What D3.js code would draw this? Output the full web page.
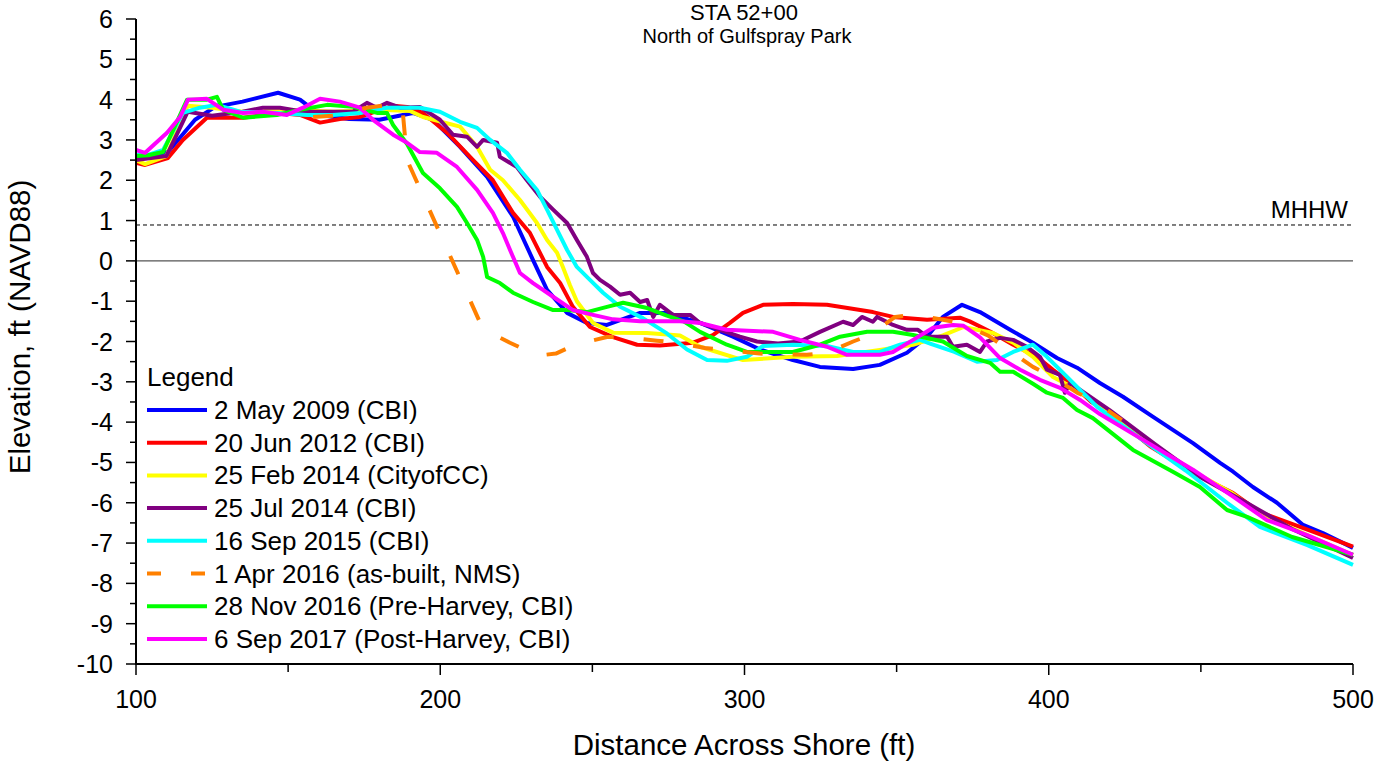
<!DOCTYPE html>
<html><head><meta charset="utf-8">
<script src="https://cdn.jsdelivr.net/npm/d3@7"></script>
<style>body{margin:0;background:#fff}svg{display:block;font-family:"Liberation Sans",Arial,sans-serif}</style>
</head><body><svg id="c" width="1394" height="765"></svg>
<script>
const xTicks=[100,200,300,400,500];
const yTicks=[-10,-9,-8,-7,-6,-5,-4,-3,-2,-1,0,1,2,3,4,5,6];
const mhhw=0.89;
const seriesNames=["2 May 2009 (CBI)","20 Jun 2012 (CBI)","25 Feb 2014 (CityofCC)","25 Jul 2014 (CBI)","16 Sep 2015 (CBI)","1 Apr 2016 (as-built, NMS)","28 Nov 2016 (Pre-Harvey, CBI)","6 Sep 2017 (Post-Harvey, CBI)"];
const seriesColors=["#0000ff","#ff0000","#ffff00","#800080","#00ffff","#ff8000","#00ff00","#ff00ff"];
const blue=[[100,2.55],[103,2.6],[110.5,2.7],[119.4,3.5],[126,3.82],[135,3.95],[146.7,4.17],[153.9,4.0],[160.5,3.62],[170,3.52],[180,3.5],[191,3.67],[197.6,3.5],[206.5,2.83],[215.4,2.08],[223.9,1.1],[230.5,0.02],[235.1,-0.72],[241.7,-1.29],[248.2,-1.54],[254.8,-1.59],[265.7,-1.29],[274.5,-1.29],[285.4,-1.54],[296.2,-1.88],[305.1,-2.2],[315.9,-2.46],[324.8,-2.63],[335.7,-2.68],[344.5,-2.58],[353.4,-2.28],[360,-1.88],[365.2,-1.39],[371.5,-1.09],[377.4,-1.27],[387.3,-1.71],[394.8,-2.03],[402.7,-2.41],[409.3,-2.65],[416.8,-3.03],[424.4,-3.37],[434.3,-3.87],[447.4,-4.52],[456.3,-5.01],[460.6,-5.23],[467.1,-5.61],[475,-6.0],[483.6,-6.55],[490.1,-6.75],[500,-7.12]];
const red=[[100,2.43],[103,2.38],[110.5,2.55],[115.4,3.0],[123.3,3.55],[135.2,3.55],[147.3,3.67],[153.9,3.62],[160.5,3.43],[167,3.52],[173.6,3.57],[184.5,3.85],[189.1,3.82],[194.3,3.67],[202.2,3.18],[210.8,2.5],[217.3,2.0],[223.9,1.19],[229.5,0.69],[235.1,-0.15],[239.4,-0.55],[243.6,-1.14],[249.2,-1.64],[256.8,-1.89],[264.7,-2.08],[272.2,-2.1],[283.1,-2.03],[289.6,-1.84],[295.2,-1.54],[299.5,-1.29],[306.1,-1.09],[315.9,-1.07],[327.1,-1.09],[342.2,-1.27],[348.8,-1.39],[360,-1.46],[370.8,-1.41],[374,-1.5],[380.7,-1.75],[388.3,-2.08],[396.1,-2.38],[401.4,-2.7],[408,-3.08],[414,-3.5],[420,-3.77],[433.3,-4.6],[447.4,-5.26],[460.6,-5.76],[469.4,-6.23],[482.6,-6.6],[500,-7.09]];
const yellow=[[100,2.5],[103,2.4],[110,2.6],[117,3.85],[125,3.8],[135,3.7],[150,3.75],[165,3.7],[180,3.75],[190,3.72],[194.3,3.57],[206.5,3.33],[212.1,2.83],[216.4,2.26],[220.6,2.0],[226.2,1.51],[231.8,0.94],[235.1,0.52],[238.4,0.2],[240.3,-0.15],[242.6,-0.6],[244.9,-1.0],[250.2,-1.54],[256.8,-1.78],[268,-1.79],[278.8,-1.85],[285.4,-2.13],[299.5,-2.46],[315.9,-2.38],[330.4,-2.36],[344.5,-2.21],[355.4,-2.08],[365.2,-1.85],[372,-1.64],[381.7,-1.79],[388.3,-2.03],[394.8,-2.38],[401.4,-2.88],[409.3,-3.2],[412.6,-3.37],[433,-4.5],[447,-5.2],[460,-5.75],[470,-6.3],[485,-6.8],[500,-7.3]];
const purple=[[100,2.5],[105,2.55],[110,2.6],[117,3.7],[125,3.6],[135,3.7],[141.7,3.8],[147.3,3.8],[155,3.7],[163.8,3.7],[171.3,3.7],[175.9,3.92],[179.2,3.8],[182.5,3.92],[186.8,3.8],[193.3,3.82],[199.9,3.5],[204.2,3.13],[208.8,3.08],[212.1,2.83],[214.1,3.0],[218.7,2.93],[219.6,2.58],[225.2,2.33],[228.5,2.0],[232.8,1.59],[237.1,1.27],[241.7,0.94],[244.9,0.52],[248.2,0.1],[250.2,-0.3],[252.5,-0.47],[255.8,-0.64],[259.1,-0.84],[262.4,-0.79],[265.7,-1.02],[268,-0.97],[270,-1.39],[272.2,-1.09],[276.5,-1.34],[282.1,-1.34],[285.4,-1.54],[291.9,-1.71],[298.5,-1.88],[304.1,-2.0],[311,-2.05],[318.2,-2.0],[324.8,-1.76],[332.4,-1.51],[335.7,-1.59],[338.6,-1.39],[342.2,-1.51],[343.6,-1.39],[348.8,-1.59],[353.4,-1.71],[357,-1.71],[360,-1.88],[366.6,-1.88],[368.5,-2.13],[373.1,-2.08],[377.4,-2.26],[379.7,-2.0],[384,-1.91],[388.3,-1.96],[392.8,-2.13],[397.1,-2.38],[399.4,-2.7],[403.7,-2.83],[405.3,-3.27],[407,-3.03],[420,-3.7],[435,-4.55],[449.7,-5.36],[465,-6.0],[480,-6.65],[500,-7.37]];
const cyan=[[100,2.63],[104,2.63],[108.9,2.75],[115.4,3.67],[121,3.8],[126.6,3.87],[134.2,3.7],[146.3,3.67],[156.2,3.62],[164.7,3.62],[173.6,3.67],[182.5,3.8],[193.3,3.8],[199.9,3.7],[206.5,3.45],[212.1,3.3],[216.4,3.0],[221.9,2.68],[226.2,2.26],[231.8,1.76],[235.1,1.27],[238.4,0.77],[241.7,0.27],[244.9,-0.15],[249.2,-0.47],[253.5,-0.79],[259.1,-1.14],[266.6,-1.42],[274.5,-1.8],[281.1,-2.2],[287.7,-2.46],[294.2,-2.48],[300.8,-2.38],[306.1,-2.11],[315.9,-2.08],[327.1,-2.11],[335.7,-2.26],[344.5,-2.26],[351.1,-2.08],[357.7,-1.96],[361,-2.05],[369,-2.26],[376.4,-2.5],[383,-2.46],[388.3,-2.26],[394.8,-2.08],[399.4,-2.38],[404.7,-2.78],[410.3,-3.2],[415.9,-3.62],[430,-4.4],[445,-5.2],[458.6,-6.0],[469.4,-6.6],[485,-7.05],[500,-7.54]];
const orange=[[158.2,3.57],[164.7,3.6],[175.9,3.8],[181.2,3.85],[187.5,3.85],[189.1,2.5],[214.1,-1.7],[222.9,-2.03],[232,-2.35],[238,-2.3],[244.3,-2.08],[254.8,-1.89],[260.7,-1.89],[271.2,-1.98],[277.8,-2.03],[287,-2.16],[293.6,-2.21],[305,-2.3],[320.5,-2.33],[327.1,-2.28],[335.7,-2.0],[341.3,-1.84],[349.5,-1.39],[356,-1.34],[365.2,-1.46],[370.8,-1.54],[380,-1.85],[394.8,-2.63],[401.4,-2.88],[409.3,-3.27],[414.5,-3.45],[424,-3.95]];
const green=[[100,2.6],[104,2.62],[108.9,2.7],[116.8,4.0],[123.3,4.0],[126.6,4.07],[128.6,3.75],[135.2,3.55],[146.3,3.62],[153.9,3.75],[162.8,3.87],[171.3,3.82],[179.2,3.67],[182.5,3.67],[184.5,3.37],[189.1,2.9],[194.3,2.18],[199.9,1.8],[205.5,1.34],[208.8,0.94],[212.1,0.52],[214.1,0.1],[215.4,-0.4],[219.6,-0.55],[223.9,-0.79],[230.5,-1.02],[237.1,-1.22],[241.7,-1.22],[248.2,-1.27],[254.8,-1.14],[260.1,-1.04],[268,-1.17],[274.5,-1.36],[280,-1.5],[285.4,-1.76],[294.2,-2.08],[300.8,-2.26],[315.9,-2.26],[324.8,-2.08],[331.4,-1.88],[340.3,-1.76],[348.8,-1.76],[355.4,-1.84],[365.2,-2.0],[373.1,-2.36],[380.7,-2.53],[384,-2.75],[388.3,-2.75],[394.8,-3.05],[399.4,-3.27],[404.7,-3.4],[409.3,-3.7],[414.5,-3.9],[427.7,-4.69],[440.8,-5.23],[449.7,-5.61],[458.6,-6.18],[465.2,-6.35],[480,-6.85],[500,-7.29]];
const pink=[[100,2.75],[103,2.68],[110.2,3.18],[114.5,3.57],[117.1,4.0],[123.3,4.02],[128.6,3.75],[135.2,3.67],[141.7,3.7],[149.6,3.62],[154.9,3.8],[160.5,4.02],[167,3.95],[173.6,3.8],[177.9,3.5],[184.5,3.13],[189.1,2.93],[193.3,2.7],[198.9,2.68],[205.5,2.33],[212.1,1.76],[217.3,1.19],[220.6,0.69],[223.9,0.1],[226.2,-0.3],[230.5,-0.55],[237.1,-0.89],[243.6,-1.22],[250.2,-1.34],[256.8,-1.45],[265.7,-1.5],[278.8,-1.5],[285.4,-1.54],[294.2,-1.71],[309.4,-1.76],[318.2,-1.96],[327.1,-2.13],[333.7,-2.33],[344.5,-2.33],[348.8,-2.26],[355.4,-1.96],[362,-1.66],[368.5,-1.59],[372,-1.61],[377.4,-1.9],[384,-2.41],[390.6,-2.7],[397.1,-2.95],[403.7,-3.15],[410.3,-3.45],[416.8,-3.8],[431,-4.44],[447.4,-5.18],[460.6,-5.85],[471.7,-6.43],[484.9,-6.8],[500,-7.29]];
const seriesData=[blue,red,yellow,purple,cyan,orange,green,pink];
const drawOrder=[0,1,2,3,4,6,7,5];

const svg=d3.select("#c");
const L=136,R=1353,T=19,B=664;
const x=d3.scaleLinear().domain([100,500]).range([L,R]);
const y=d3.scaleLinear().domain([-10,6]).range([B,T]);

// reference lines
svg.append("line").attr("x1",L).attr("x2",R).attr("y1",y(0)).attr("y2",y(0)).attr("stroke","#555").attr("stroke-width",1.2);
svg.append("line").attr("x1",L).attr("x2",R).attr("y1",y(mhhw)).attr("y2",y(mhhw)).attr("stroke","#000").attr("stroke-width",1).attr("stroke-dasharray","4,3");
svg.append("text").attr("x",1348).attr("y",218).attr("text-anchor","end").attr("font-size",24).text("MHHW");

// series
const line=d3.line().x(d=>x(d[0])).y(d=>y(d[1]));
const g=svg.append("g");
drawOrder.forEach(i=>{
  g.append("path").attr("d",line(seriesData[i])).attr("fill","none").attr("stroke",seriesColors[i])
   .attr("stroke-width",4).attr("stroke-linejoin","round")
   .attr("stroke-dasharray",i===5?"20,30":null);
});

// axes
d3.range(100,501,50).forEach(v=>{
  const major=v%100===0;
  svg.append("line").attr("x1",x(v)).attr("x2",x(v)).attr("y1",B).attr("y2",B+(major?11:8)).attr("stroke","#000").attr("stroke-width",1.5);
});
xTicks.forEach(v=>{
  svg.append("text").attr("x",x(v)).attr("y",708).attr("text-anchor","middle").attr("font-size",25).text(v);
});
d3.range(-10,6.01,0.5).forEach(v=>{
  const major=Math.abs(v-Math.round(v))<1e-9;
  svg.append("line").attr("x1",L).attr("x2",L-(major?10:6)).attr("y1",y(v)).attr("y2",y(v)).attr("stroke","#000").attr("stroke-width",1.5);
});
yTicks.forEach(v=>{
  svg.append("text").attr("x",113).attr("y",y(v)+9).attr("text-anchor","end").attr("font-size",25).text(v);
});
svg.append("line").attr("x1",L).attr("x2",L).attr("y1",T).attr("y2",B+1).attr("stroke","#000").attr("stroke-width",2);
svg.append("line").attr("x1",L-1).attr("x2",R).attr("y1",B).attr("y2",B).attr("stroke","#000").attr("stroke-width",2);

// titles
svg.append("text").attr("x",744).attr("y",20).attr("text-anchor","middle").attr("font-size",22).text("STA 52+00");
svg.append("text").attr("x",747).attr("y",43).attr("text-anchor","middle").attr("font-size",20).text("North of Gulfspray Park");
svg.append("text").attr("x",744).attr("y",755).attr("text-anchor","middle").attr("font-size",29.5).text("Distance Across Shore (ft)");
svg.append("text").attr("transform",`translate(30,327) rotate(-90)`).attr("text-anchor","middle").attr("font-size",29.5).text("Elevation, ft (NAVD88)");

// legend
svg.append("text").attr("x",147).attr("y",386).attr("font-size",26).text("Legend");
seriesNames.forEach((n,i)=>{
  const yy=410+i*32.7;
  svg.append("line").attr("x1",147).attr("x2",207).attr("y1",yy).attr("y2",yy).attr("stroke",seriesColors[i]).attr("stroke-width",4)
    .attr("stroke-dasharray",i===5?"14,30":null);
  svg.append("text").attr("x",214).attr("y",yy+9).attr("font-size",26).text(n);
});
</script></body></html>
